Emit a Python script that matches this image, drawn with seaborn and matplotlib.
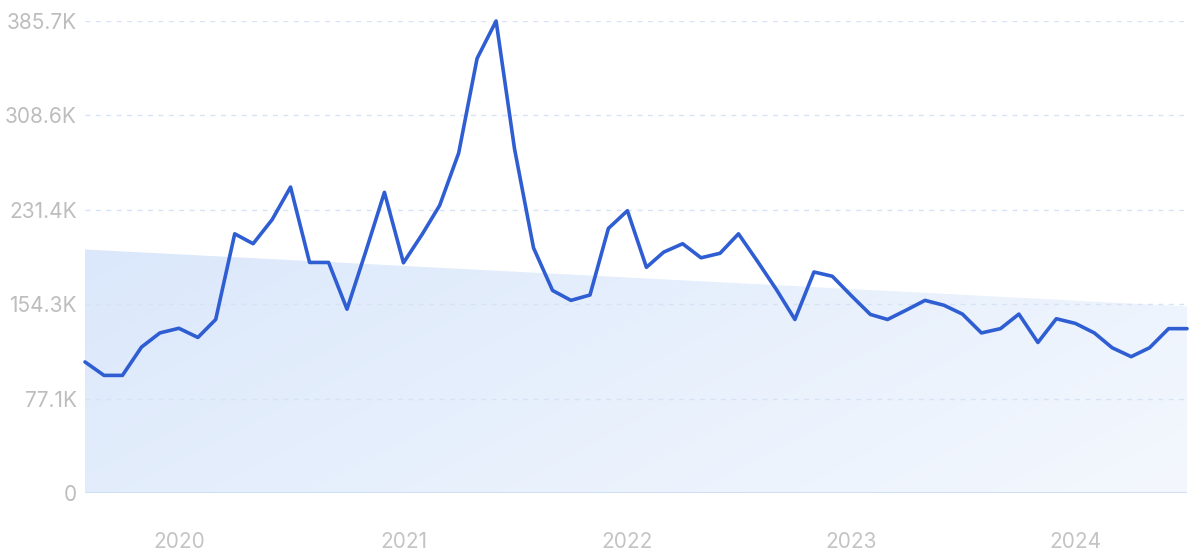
import numpy as np
import pandas as pd
import matplotlib
matplotlib.use("Agg")
import matplotlib.pyplot as plt
import matplotlib.dates as mdates
import seaborn as sns

# monthly values, Aug 2019 .. Jul 2024 (thousands)
months = pd.date_range("2019-08-01", periods=60, freq="MS")
traffic_k = [107.1, 96.1, 96.1, 119.2, 130.8, 134.6, 127.1, 141.8, 211.8, 203.7,
             223.4, 250.0, 188.4, 188.4, 150.2, 198.0, 245.7, 188.1, 211.8, 235.0,
             277.8, 355.1, 385.7, 281.3, 200.3, 165.5, 157.4, 161.8, 216.2, 230.7,
             184.4, 196.8, 203.7, 192.2, 195.9, 211.8, 189.3, 166.1, 141.8, 180.6,
             177.1, 161.2, 145.9, 141.8, 149.6, 157.4, 153.4, 146.2, 130.8, 134.3,
             146.2, 123.0, 142.4, 138.6, 130.8, 118.7, 111.4, 118.7, 134.3, 134.3]
trend_k = [199.0, 152.5]  # trend band, start and end

y_ticks = [0, 77.1, 154.3, 231.4, 308.6, 385.7]
y_labels = ["0", "77.1K", "154.3K", "231.4K", "308.6K", "385.7K"]
year_labels = ["2020", "2021", "2022", "2023", "2024"]

df = pd.DataFrame({"month": months, "traffic": traffic_k})

sns.set_style("white")
plt.rcParams["font.family"] = ["Inter", "DejaVu Sans"]

fig = plt.figure(figsize=(12, 5.55), dpi=100)
ax = fig.add_axes([85 / 1200, 1 - 493 / 555, (1187 - 85) / 1200, (493 - 21) / 555])

x0, x1 = mdates.date2num(months[0]), mdates.date2num(months[-1])

# trend area with a soft gradient
poly = ax.fill_between([months[0], months[-1]], [0, 0], trend_k, color="none", lw=0)
nx, ny = 300, 120
gx = np.linspace(0, 1, nx)[None, :]
gy = np.linspace(0, 1, ny)[:, None]
t = np.clip(0.7 * gx + 0.3 * gy, 0, 1)
c0 = np.array([0xdb, 0xe8, 0xfb]) / 255
c1 = np.array([0xf4, 0xf8, 0xfe]) / 255
img = c0[None, None, :] * (1 - t[..., None]) + c1[None, None, :] * t[..., None]
im = ax.imshow(img, extent=[x0, x1, 0, max(trend_k)], origin="upper",
               aspect="auto", interpolation="bilinear", zorder=1)
im.set_clip_path(poly.get_paths()[0], transform=ax.transData)

for v in y_ticks[1:]:
    ax.axhline(v, color="#d6e3f5", lw=1, ls=(0, (3.5, 4)), zorder=2)
ax.axhline(0, color="#c9dcf4", lw=1.2, zorder=2)

sns.lineplot(data=df, x="month", y="traffic", ax=ax, color="#2f5ed3",
             lw=2.6, zorder=3, clip_on=False)

ax.set_xlim(x0, x1)
ax.set_ylim(0, 385.7)
ax.set_yticks(y_ticks)
ax.set_yticklabels(y_labels)
ax.set_xticks([pd.Timestamp(f"{y}-01-01") for y in year_labels])
ax.set_xticklabels(year_labels)
ax.tick_params(axis="y", length=0, pad=6, labelsize=15, labelcolor="#bdbdbd")
ax.tick_params(axis="x", length=0, pad=28, labelsize=15, labelcolor="#c4c4c4")
ax.set_xlabel("")
ax.set_ylabel("")
for s in ax.spines.values():
    s.set_visible(False)

fig.savefig("out.png", dpi=100)
